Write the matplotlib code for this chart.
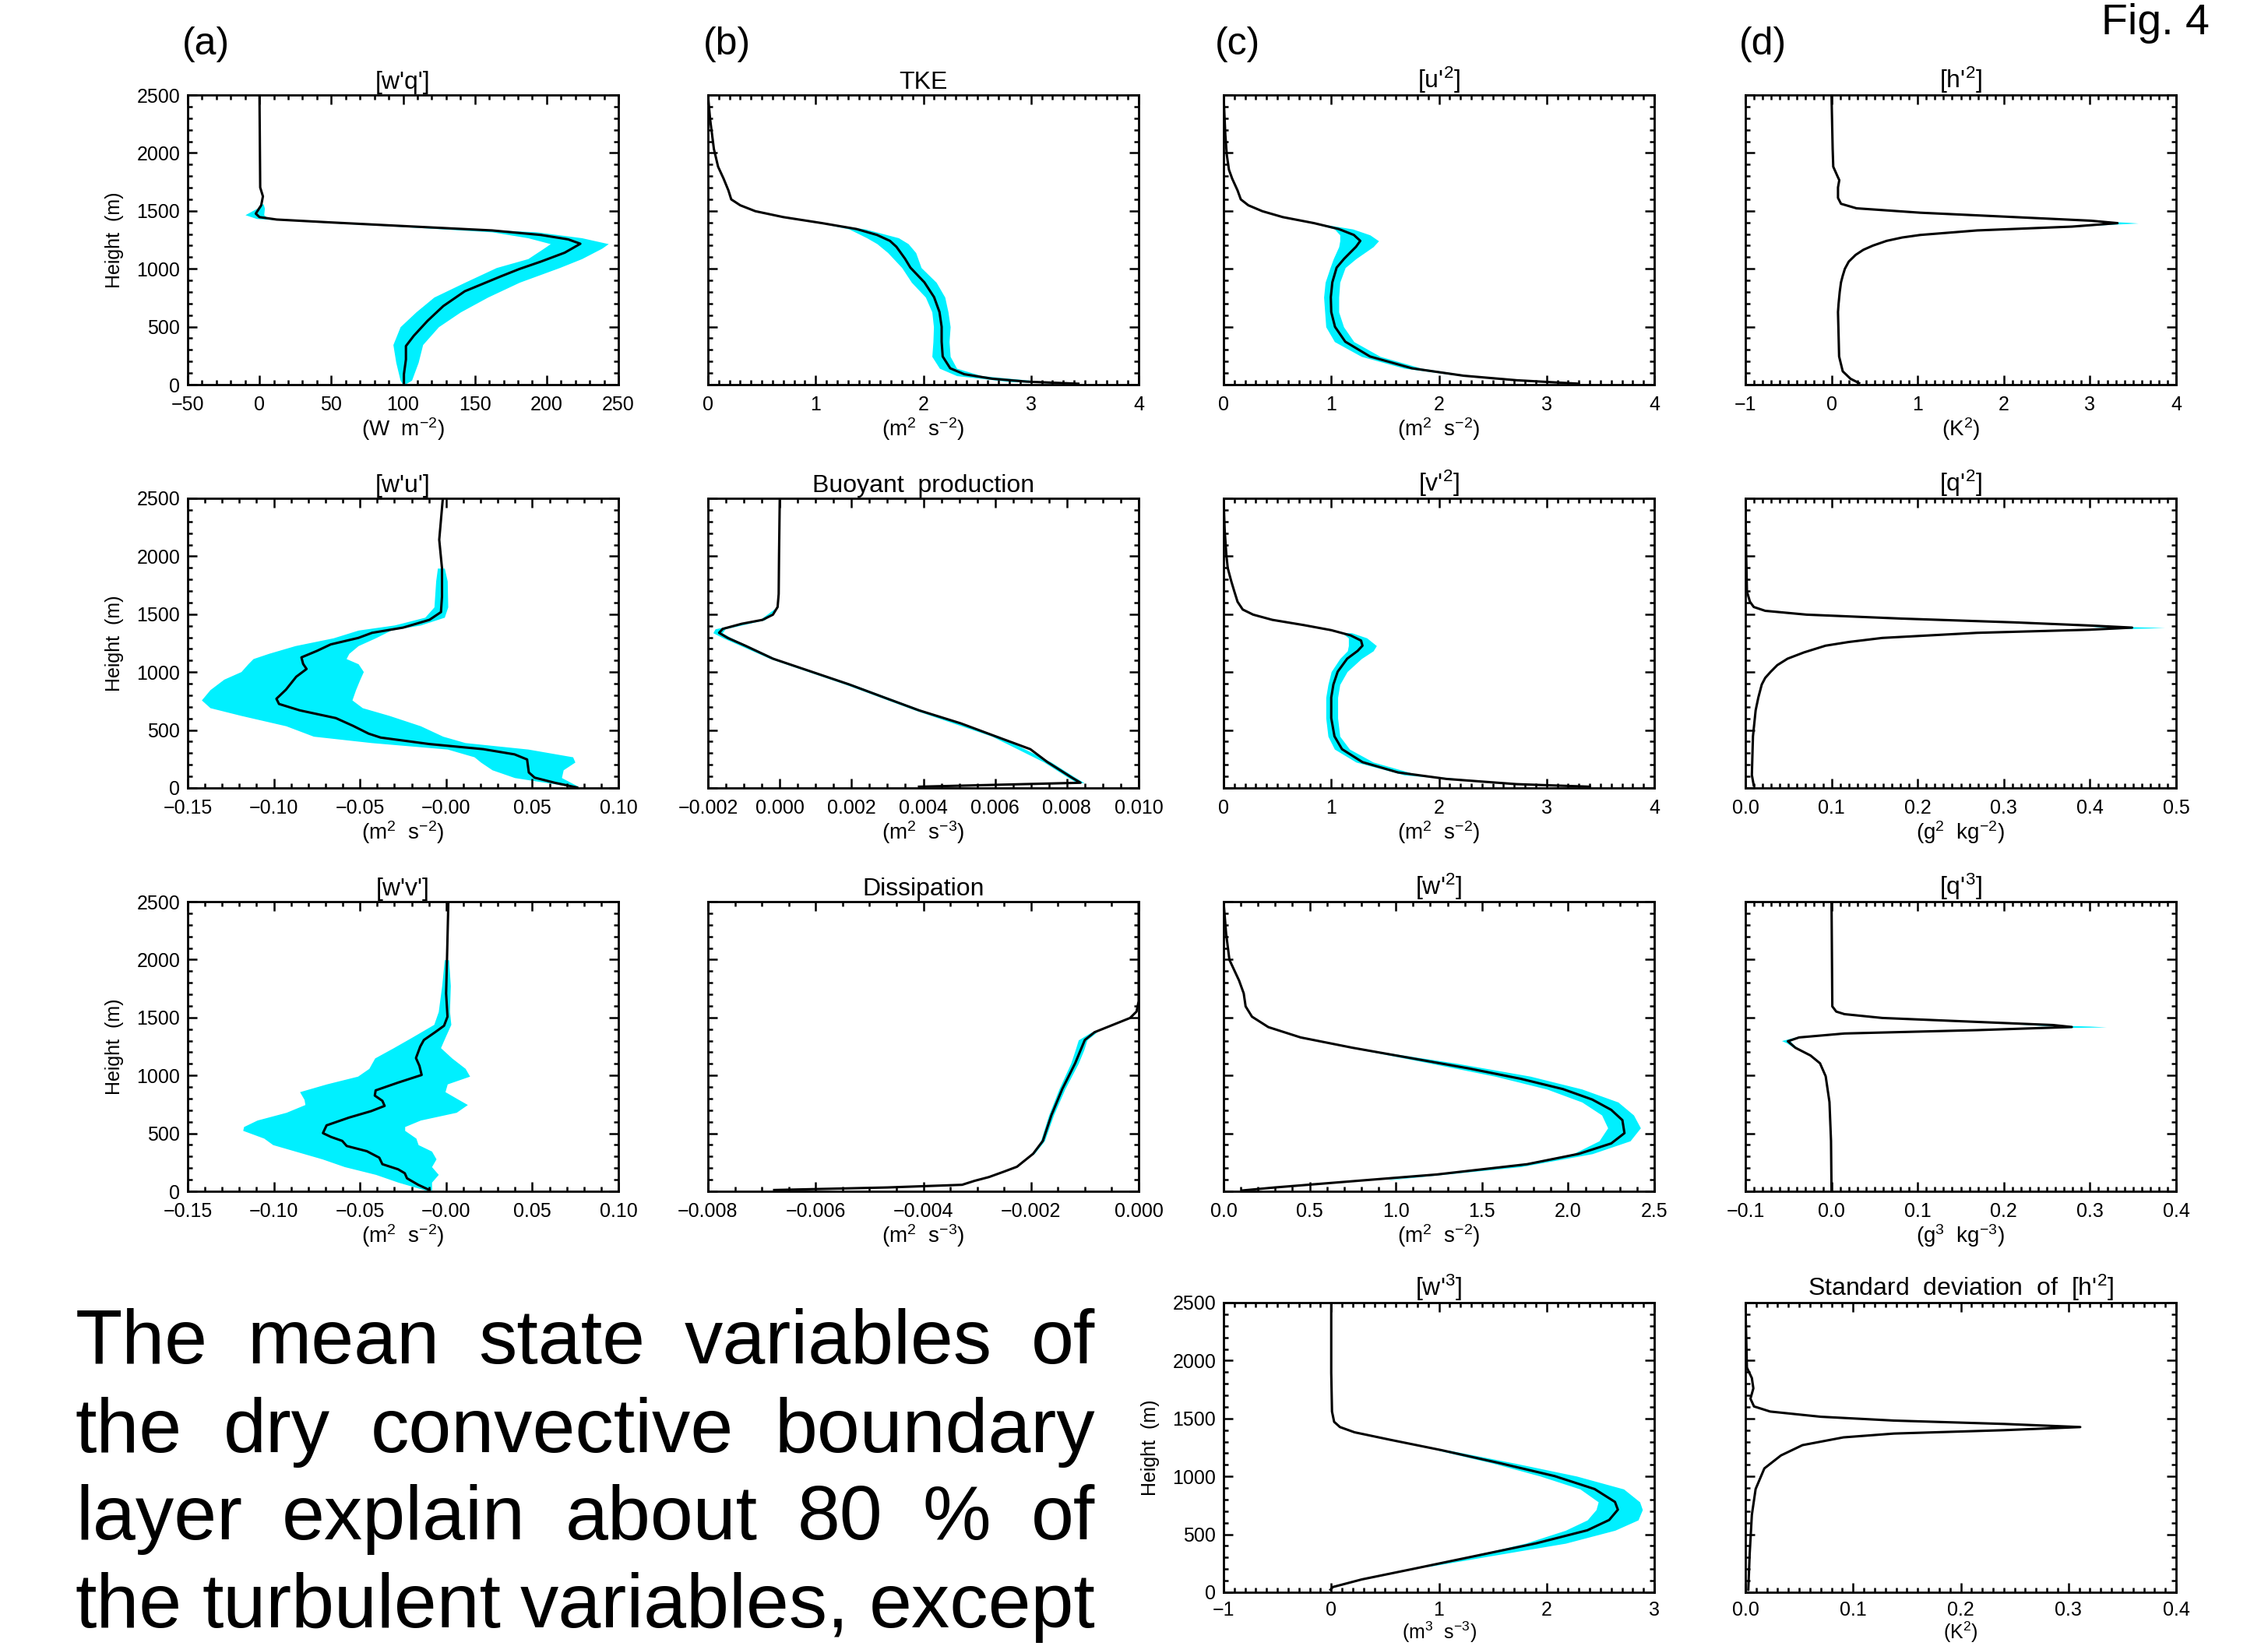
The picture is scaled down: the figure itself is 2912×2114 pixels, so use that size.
import numpy as np
import matplotlib
matplotlib.use('Agg')
import matplotlib.pyplot as plt
from matplotlib.ticker import MultipleLocator, FixedLocator, FixedFormatter

plt.rcParams['font.family'] = ['Liberation Sans', 'DejaVu Sans']
plt.rcParams['mathtext.default'] = 'regular'

CYAN = '#00f0ff'
M = '\u2212'

# ---- (a) row 1 : [w'q']
wq_z = [2500, 1702, 1625, 1548, 1476, 1446, 1425, 1400, 1369, 1331, 1292, 1254, 1216, 1139, 1062,
        998, 934, 806, 678, 550, 422, 333, 217, 90, 8]
wq_m = [0, 0.5, 2.4, 1.2, -2.6, 0, 12, 50, 100, 162, 196, 215, 223.5, 212.6, 196,
        181, 168, 143, 128, 117, 107.5, 102, 102, 100.6, 100.6]
wq_bz = [1560, 1523, 1466, 1433, 1400, 1369, 1318, 1267, 1216, 1177, 1087, 1010, 883, 755, 627,
         499, 345, 192, 38, 8]
wq_lo = [1.0, -1.6, -10, -2, 45, 93, 162, 187, 202.6, 198, 187, 165, 143, 121.5, 109,
         98, 93, 95, 98, 99.5]
wq_hi = [2.6, 3.5, 3, 6, 55, 108, 193, 224.5, 243, 238.5, 224.5, 209, 181, 159, 140,
         124.7, 113.7, 110.6, 106, 102]

# ---- (b) row 1 : TKE
tke_z = [2500, 2290, 2034, 1881, 1778, 1676, 1599, 1548, 1497, 1446, 1394, 1343, 1292, 1241,
         1190, 1087, 1010, 883, 755, 627, 499, 371, 243, 141, 90, 51, 26, 8]
tke_m = [0, 0.02, 0.055, 0.094, 0.145, 0.19, 0.216, 0.3, 0.44, 0.70, 1.06, 1.38, 1.57, 1.69,
         1.75, 1.83, 1.88, 2.01, 2.10, 2.15, 2.17, 2.17, 2.18, 2.25, 2.38, 2.64, 2.96, 3.44]
tke_bz = [1394, 1343, 1267, 1216, 1139, 1010, 883, 755, 627, 499, 371, 243, 141, 77, 26, 8]
tke_lo = [1.05, 1.31, 1.475, 1.57, 1.67, 1.80, 1.89, 2.02, 2.08, 2.095, 2.09, 2.08, 2.15, 2.31, 2.80, 3.40]
tke_hi = [1.08, 1.46, 1.77, 1.86, 1.93, 1.98, 2.12, 2.20, 2.23, 2.25, 2.24, 2.25, 2.31, 2.54, 3.12, 3.46]

# ---- (c) row 1 : [u'2]
u2_z = [2500, 2162, 1983, 1855, 1778, 1676, 1599, 1548, 1497, 1446, 1394, 1343, 1292, 1241,
        1190, 1087, 1010, 883, 755, 627, 499, 371, 243, 141, 77, 38, 8]
u2_m = [0, 0.016, 0.03, 0.05, 0.08, 0.13, 0.16, 0.23, 0.36, 0.55, 0.84, 1.07, 1.21, 1.27,
        1.23, 1.12, 1.05, 1.01, 0.996, 1.0, 1.035, 1.13, 1.36, 1.75, 2.23, 2.72, 3.30]
u2_bz = [1394, 1343, 1292, 1241, 1190, 1087, 1010, 883, 755, 627, 499, 371, 243, 141, 77, 30]
u2_lo = [0.83, 1.03, 1.08, 1.08, 1.07, 1.02, 0.99, 0.944, 0.93, 0.94, 0.95, 1.03, 1.28, 1.68, 2.2, 2.9]
u2_hi = [0.86, 1.20, 1.36, 1.44, 1.39, 1.23, 1.13, 1.08, 1.07, 1.07, 1.115, 1.21, 1.455, 1.84, 2.3, 2.95]

# ---- (d) row 1 : [h'2]
h2_z = [2500, 2034, 1881, 1804, 1765, 1702, 1612, 1561, 1522, 1484, 1446, 1415, 1394, 1364,
        1331, 1292, 1270, 1241, 1200, 1164, 1120, 1062, 1000, 940, 883, 800, 700, 627, 243,
        115, 51, 13]
h2_m = [0.0, 0.013, 0.02, 0.066, 0.09, 0.075, 0.075, 0.11, 0.29, 1.03, 2.13, 3.01, 3.32, 2.79,
        1.69, 1.03, 0.82, 0.64, 0.48, 0.37, 0.28, 0.20, 0.155, 0.13, 0.11, 0.095, 0.082, 0.075,
        0.088, 0.13, 0.22, 0.32]
h2_bz = [1440, 1415, 1400, 1394, 1385, 1364]
h2_lo = [2.3, 3.0, 3.2, 3.25, 3.1, 2.7]
h2_hi = [2.35, 3.05, 3.45, 3.56, 3.3, 2.8]

# ---- (a) row 2 : [w'u']
wu_z = [2500, 2143, 1897, 1652, 1518, 1451, 1384, 1339, 1295, 1239, 1183, 1127, 1071, 1027, 960,
        848, 770, 725, 670, 603, 536, 469, 435, 379, 335, 290, 246, 134, 89, 45, 4]
wu_m = [-0.0019, -0.004, -0.0024, -0.0024, -0.003, -0.0097, -0.025, -0.043, -0.051, -0.067,
        -0.075, -0.084, -0.083, -0.081, -0.087, -0.093, -0.0985, -0.097, -0.085, -0.064, -0.054,
        -0.045, -0.038, -0.0097, 0.0215, 0.0397, 0.047, 0.048, 0.0514, 0.063, 0.076]
wu_bz = [1897, 1786, 1562, 1473, 1406, 1362, 1295, 1228, 1161, 1116, 1071, 1004, 938, 848, 759,
         692, 625, 536, 446, 391, 335, 268, 223, 156, 89, 11]
wu_lo = [-0.005, -0.006, -0.007, -0.0123, -0.030, -0.051, -0.0655, -0.0876, -0.103, -0.112,
         -0.115, -0.119, -0.129, -0.137, -0.142, -0.137, -0.119, -0.093, -0.077, -0.0435,
         0.0007, 0.0163, 0.020, 0.0267, 0.0397, 0.0735]
wu_hi = [-0.001, 0.0007, 0.001, -0.001, -0.0149, -0.032, -0.041, -0.051, -0.0564, -0.058,
         -0.051, -0.048, -0.050, -0.0525, -0.0546, -0.0486, -0.033, -0.0149, -0.0019, 0.011,
         0.0475, 0.0735, 0.0748, 0.068, 0.067, 0.077]

# ---- (b) row 2 : buoyant production
bp_z = [2500, 2009, 1674, 1562, 1496, 1451, 1417, 1373, 1339, 1295, 1228, 1116, 1004, 893, 781,
        670, 558, 446, 335, 223, 156, 89, 45, 27, 11]
bp_m = [0.0, -0.00002, -0.00003, -0.00006, -0.00019, -0.00048, -0.00106, -0.00159, -0.00169,
        -0.00145, -0.00096, -0.00019, 0.00088, 0.00194, 0.00291, 0.00388, 0.00504, 0.00601,
        0.00698, 0.00746, 0.0078, 0.00814, 0.00838, 0.006, 0.00388]
bp_bz = [1562, 1451, 1373, 1339, 1295, 1116, 893, 670, 446, 223, 89, 45]
bp_lo = [-0.00008, -0.00056, -0.0018, -0.00186, -0.00158, -0.00027, 0.00184, 0.00378, 0.00591,
         0.00736, 0.00804, 0.00828]
bp_hi = [-0.00004, -0.00042, -0.00152, -0.00160, -0.00135, -0.00011, 0.00204, 0.00398, 0.00611,
         0.00756, 0.00824, 0.00848]

# ---- (c) row 2 : [v'2]
v2_z = [2500, 2232, 2009, 1897, 1786, 1696, 1607, 1540, 1496, 1451, 1406, 1362, 1317, 1272, 1228,
        1183, 1116, 1004, 893, 781, 603, 446, 335, 223, 134, 78, 33, 11]
v2_m = [0, 0.01, 0.026, 0.039, 0.071, 0.10, 0.13, 0.178, 0.275, 0.453, 0.744, 1.0, 1.18, 1.277,
        1.29, 1.245, 1.148, 1.06, 1.02, 1.0, 1.0, 1.03, 1.1, 1.29, 1.62, 2.07, 2.72, 3.40]
v2_bz = [1339, 1295, 1228, 1183, 1116, 1004, 893, 781, 603, 446, 335, 223, 112, 40]
v2_lo = [1.10, 1.16, 1.16, 1.15, 1.08, 1.0, 0.97, 0.95, 0.95, 0.97, 1.03, 1.23, 1.68, 2.6]
v2_hi = [1.19, 1.33, 1.42, 1.39, 1.28, 1.148, 1.08, 1.06, 1.06, 1.08, 1.17, 1.39, 1.81, 2.65]

# ---- (d) row 2 : [q'2]
q2_z = [2500, 2009, 1696, 1607, 1562, 1529, 1496, 1462, 1429, 1402, 1384, 1366, 1339, 1295, 1260,
        1228, 1170, 1116, 1060, 1004, 950, 893, 780, 670, 446, 112, 22]
q2_m = [0, 0.0009, 0.0018, 0.0053, 0.0097, 0.023, 0.071, 0.181, 0.313, 0.40, 0.449, 0.40, 0.269,
        0.159, 0.12, 0.093, 0.068, 0.049, 0.037, 0.0295, 0.023, 0.019, 0.015, 0.0119, 0.0088,
        0.0075, 0.0097]
q2_bz = [1395, 1384, 1378, 1370]
q2_lo = [0.40, 0.42, 0.43, 0.40]
q2_hi = [0.43, 0.487, 0.46, 0.41]

# ---- (a) row 3 : [w'v']
wv_z = [2500, 1998, 1708, 1507, 1429, 1373, 1306, 1250, 1150, 1083, 1004, 938, 871, 826, 781,
        737, 692, 636, 569, 502, 469, 435, 391, 346, 290, 234, 190, 156, 112, 56, 11]
wv_m = [0.0013, 0.0005, 0.0, 0.0008, -0.0012, -0.0064, -0.0129, -0.015, -0.0175, -0.0155,
        -0.0142, -0.0279, -0.0409, -0.0414, -0.037, -0.0357, -0.0435, -0.0564, -0.0694, -0.0715,
        -0.0668, -0.0603, -0.0577, -0.046, -0.0388, -0.037, -0.0279, -0.024, -0.0227, -0.0162, -0.0097]
wv_bz = [1998, 1775, 1551, 1440, 1328, 1239, 1150, 1060, 993, 926, 859, 792, 748, 681, 614,
         558, 525, 458, 402, 346, 279, 212, 145, 78, 11]
wv_lo = [-0.001, -0.0025, -0.0045, -0.0071, -0.020, -0.0305, -0.0414, -0.0448, -0.0513, -0.0694,
         -0.085, -0.0824, -0.0819, -0.0928, -0.1097, -0.1175, -0.118, -0.1058, -0.1006, -0.0876,
         -0.072, -0.059, -0.0409, -0.0279, -0.0123]
wv_hi = [0.0015, 0.0025, 0.002, 0.0028, -0.0006, -0.0032, 0.0033, 0.0111, 0.0137, 0.0007,
         -0.0006, 0.0072, 0.0124, 0.0059, -0.0149, -0.024, -0.024, -0.0175, -0.0162, -0.0084,
         -0.0058, -0.0084, -0.0045, -0.0084, -0.0084]

# ---- (b) row 3 : dissipation
ds_z = [2500, 1641, 1551, 1496, 1440, 1373, 1306, 1217, 1105, 993, 882, 658, 435, 324, 212,
        170, 123, 90, 56, 33, 11]
ds_m = [0.0, 0.0, -0.00004, -0.00016, -0.00046, -0.00082, -0.001, -0.00108, -0.00118, -0.0013,
        -0.00142, -0.00162, -0.00178, -0.00196, -0.00226, -0.0025, -0.00278, -0.00305, -0.00328,
        -0.00467, -0.00677]
ds_bz = [1373, 1306, 1217, 1105, 882, 658, 435, 324]
ds_lo = [-0.00088, -0.00112, -0.00118, -0.00126, -0.00148, -0.00167, -0.00182, -0.00198]
ds_hi = [-0.00078, -0.00096, -0.00102, -0.00112, -0.00137, -0.00158, -0.00175, -0.00194]

# ---- (c) row 3 : [w'2]
w2_z = [2500, 2221, 1998, 1819, 1708, 1596, 1507, 1417, 1328, 1239, 1150, 1060, 971, 882, 792,
        703, 614, 502, 413, 324, 234, 145, 78, 33, 7]
w2_m = [0, 0.015, 0.034, 0.09, 0.117, 0.128, 0.165, 0.26, 0.447, 0.748, 1.086, 1.425, 1.725,
        1.97, 2.14, 2.25, 2.315, 2.327, 2.25, 2.064, 1.763, 1.237, 0.673, 0.297, 0.109]
w2_bz = [1239, 1105, 993, 882, 770, 658, 547, 435, 324, 212, 100]
w2_lo = [0.74, 1.20, 1.575, 1.876, 2.08, 2.195, 2.23, 2.18, 2.03, 1.65, 0.95]
w2_hi = [0.76, 1.35, 1.78, 2.08, 2.29, 2.38, 2.42, 2.36, 2.14, 1.725, 0.97]

# ---- (d) row 3 : [q'3]
q3_z = [2500, 1596, 1551, 1529, 1496, 1462, 1435, 1418, 1391, 1362, 1328, 1295, 1239, 1172,
        1105, 993, 770, 435, 0]
q3_m = [0, 0.0009, 0.0055, 0.015, 0.059, 0.169, 0.257, 0.279, 0.169, 0.015, -0.0376, -0.0507,
        -0.042, -0.0244, -0.0134, -0.0068, -0.0024, -0.0006, 0]
q3_bz = [1440, 1425, 1418, 1410, 1391, 1362, 1330, 1300, 1280, 1240]
q3_lo = [0.22, 0.26, 0.27, 0.22, 0.165, 0.012, -0.042, -0.058, -0.052, -0.044]
q3_hi = [0.23, 0.30, 0.319, 0.25, 0.175, 0.018, -0.036, -0.048, -0.046, -0.040]

# ---- (c) row 4 : [w'3]
w3_z = [2500, 1894, 1560, 1471, 1426, 1381, 1315, 1226, 1114, 1003, 891, 780, 713, 624, 535,
        423, 312, 201, 111, 45, 22]
w3_m = [0, 0, 0.007, 0.027, 0.081, 0.216, 0.554, 1.027, 1.568, 2.074, 2.446, 2.635, 2.662,
        2.581, 2.378, 1.905, 1.331, 0.757, 0.284, 0.014, -0.007]
w3_bz = [1226, 1114, 1003, 891, 780, 713, 624, 535, 423, 312, 223]
w3_lo = [0.99, 1.5, 1.939, 2.311, 2.48, 2.46, 2.378, 2.176, 1.804, 1.297, 0.88]
w3_hi = [1.09, 1.703, 2.277, 2.716, 2.865, 2.89, 2.85, 2.635, 2.176, 1.466, 0.91]

# ---- (d) row 4 : standard deviation of [h'2]
sd_z = [2500, 1939, 1849, 1760, 1671, 1604, 1560, 1515, 1482, 1453, 1426, 1399, 1370, 1337,
        1270, 1181, 1069, 891, 668, 334, 22]
sd_m = [0, 0.0014, 0.006, 0.0074, 0.0047, 0.008, 0.023, 0.070, 0.138, 0.24, 0.311, 0.24, 0.138,
        0.091, 0.053, 0.033, 0.0176, 0.0095, 0.006, 0.004, 0.0027]

# tick positions and labels
t_wq = [-50, 0, 50, 100, 150, 200, 250]
l_wq = [M + '50', '0', '50', '100', '150', '200', '250']
t_04 = [0, 1, 2, 3, 4]
l_04 = ['0', '1', '2', '3', '4']
t_h2 = [-1, 0, 1, 2, 3, 4]
l_h2 = [M + '1', '0', '1', '2', '3', '4']
t_wu = [-0.15, -0.10, -0.05, 0.0, 0.05, 0.10]
l_wu = [M + '0.15', M + '0.10', M + '0.05', M + '0.00', '0.05', '0.10']
t_bp = [-0.002, 0.0, 0.002, 0.004, 0.006, 0.008, 0.010]
l_bp = [M + '0.002', '0.000', '0.002', '0.004', '0.006', '0.008', '0.010']
t_q2 = [0.0, 0.1, 0.2, 0.3, 0.4, 0.5]
l_q2 = ['0.0', '0.1', '0.2', '0.3', '0.4', '0.5']
t_ds = [-0.008, -0.006, -0.004, -0.002, 0.0]
l_ds = [M + '0.008', M + '0.006', M + '0.004', M + '0.002', '0.000']
t_w2 = [0.0, 0.5, 1.0, 1.5, 2.0, 2.5]
l_w2 = ['0.0', '0.5', '1.0', '1.5', '2.0', '2.5']
t_q3 = [-0.1, 0.0, 0.1, 0.2, 0.3, 0.4]
l_q3 = [M + '0.1', '0.0', '0.1', '0.2', '0.3', '0.4']
t_w3 = [-1, 0, 1, 2, 3]
l_w3 = [M + '1', '0', '1', '2', '3']
t_sd = [0.0, 0.1, 0.2, 0.3, 0.4]
l_sd = ['0.0', '0.1', '0.2', '0.3', '0.4']

height_ticks = [0, 500, 1000, 1500, 2000, 2500]

text_lines = ["The mean state variables of",
              "the dry convective boundary",
              "layer explain about 80 % of",
              "the turbulent variables, except"]

W, H = 2912, 2114
fig = plt.figure(figsize=(W / 100, H / 100), dpi=100)

col_left = [241, 909, 1571, 2241]
row_top = [122, 640, 1158, 1673]
AW, AH = 553, 372

U2 = '(m$^2$  s$^{-2}$)'
panels = [
    (0, 0, wq_z, wq_m, wq_bz, wq_lo, wq_hi, t_wq, l_wq, 10, "[w'q']", '(W  m$^{-2}$)', True),
    (0, 1, tke_z, tke_m, tke_bz, tke_lo, tke_hi, t_04, l_04, 0.1, 'TKE', U2, False),
    (0, 2, u2_z, u2_m, u2_bz, u2_lo, u2_hi, t_04, l_04, 0.1, "[u'$^2$]", U2, False),
    (0, 3, h2_z, h2_m, h2_bz, h2_lo, h2_hi, t_h2, l_h2, 0.1, "[h'$^2$]", '(K$^2$)', False),
    (1, 0, wu_z, wu_m, wu_bz, wu_lo, wu_hi, t_wu, l_wu, 0.01, "[w'u']", U2, True),
    (1, 1, bp_z, bp_m, bp_bz, bp_lo, bp_hi, t_bp, l_bp, 0.0005, 'Buoyant  production', '(m$^2$  s$^{-3}$)', False),
    (1, 2, v2_z, v2_m, v2_bz, v2_lo, v2_hi, t_04, l_04, 0.1, "[v'$^2$]", U2, False),
    (1, 3, q2_z, q2_m, q2_bz, q2_lo, q2_hi, t_q2, l_q2, 0.01, "[q'$^2$]", '(g$^2$  kg$^{-2}$)', False),
    (2, 0, wv_z, wv_m, wv_bz, wv_lo, wv_hi, t_wu, l_wu, 0.01, "[w'v']", U2, True),
    (2, 1, ds_z, ds_m, ds_bz, ds_lo, ds_hi, t_ds, l_ds, 0.0005, 'Dissipation', '(m$^2$  s$^{-3}$)', False),
    (2, 2, w2_z, w2_m, w2_bz, w2_lo, w2_hi, t_w2, l_w2, 0.1, "[w'$^2$]", U2, False),
    (2, 3, q3_z, q3_m, q3_bz, q3_lo, q3_hi, t_q3, l_q3, 0.01, "[q'$^3$]", '(g$^3$  kg$^{-3}$)', False),
    (3, 2, w3_z, w3_m, w3_bz, w3_lo, w3_hi, t_w3, l_w3, 0.1, "[w'$^3$]", '(m$^3$  s$^{-3}$)', True),
    (3, 3, sd_z, sd_m, None, None, None, t_sd, l_sd, 0.01, "Standard  deviation  of  [h'$^2$]", '(K$^2$)', False),
]

for r, c, z, m, bz, lo, hi, xt, xl, xminor, title, xlab, ylab in panels:
    x0 = col_left[c]
    ax = fig.add_axes([x0 / W, 1 - (row_top[r] + AH) / H, AW / W, AH / H])
    if bz is not None:
        ax.fill_betweenx(bz, lo, hi, color=CYAN, lw=0, zorder=1)
    ax.plot(m, z, color='black', lw=2.2, zorder=2, solid_joinstyle='round')
    ax.set_xlim(xt[0], xt[-1])
    ax.set_ylim(0, 2500)
    ax.xaxis.set_major_locator(FixedLocator(xt))
    ax.xaxis.set_major_formatter(FixedFormatter(xl))
    ax.xaxis.set_minor_locator(MultipleLocator(xminor))
    ax.yaxis.set_major_locator(FixedLocator(height_ticks))
    ax.yaxis.set_minor_locator(MultipleLocator(100))
    ax.tick_params(which='both', direction='in', top=True, right=True, width=1.8)
    ax.tick_params(which='major', length=8.5)
    ax.tick_params(which='minor', length=4.5)
    bottom_row = r == 3
    ax.tick_params(axis='x', labelsize=18, pad=8 if bottom_row else 10)
    ax.tick_params(axis='y', labelsize=18, pad=7)
    for s in ax.spines.values():
        s.set_linewidth(2.0)
    ax.set_title(title, fontsize=23, pad=6)
    ax.set_xlabel(xlab, fontsize=18 if bottom_row else 20, labelpad=0 if bottom_row else 2)
    if ylab:
        ax.set_ylabel('Height  (m)', fontsize=18, labelpad=12)
    else:
        ax.set_yticklabels([])

# panel letters
for lab, x in zip(['(a)', '(b)', '(c)', '(d)'], [264, 933, 1589, 2263]):
    fig.text(x / W, 1 - 57 / H, lab, fontsize=36, ha='center', va='center')

# the original crops this label at the top edge; keep it just inside
fig.text(2837 / W, 1 - 4 / H, 'Fig. 4', fontsize=40, ha='right', va='top')

# justified paragraph at lower left
renderer = fig.canvas.get_renderer()
tx0, tx1 = 97, 1406
baselines = [1751, 1865, 1977, 2090]
for line, yb in zip(text_lines, baselines):
    words = line.split()
    ts = [fig.text(0, 1 - yb / H, wd, fontsize=71, ha='left', va='baseline') for wd in words]
    ws = [t.get_window_extent(renderer).width for t in ts]
    gap = (tx1 - tx0 - sum(ws)) / (len(words) - 1)
    x = tx0
    for t, w in zip(ts, ws):
        t.set_x(x / W)
        x += w + gap

fig.savefig('out.png', dpi=100)
